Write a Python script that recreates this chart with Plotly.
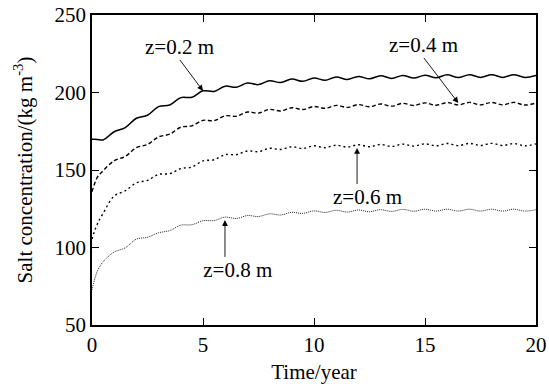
import plotly.graph_objects as go

time_year = [0, 0.1, 0.25, 0.5, 1.0, 1.5, 2.0, 2.5, 3.0, 3.5, 4.0, 4.5, 5.0, 5.5, 6.0, 6.5,
             7.0, 7.5, 8.0, 8.5, 9.0, 9.5, 10.0, 10.5, 11.0, 11.5, 12.0, 12.5, 13.0, 13.5,
             14.0, 14.5, 15.0, 15.5, 16.0, 16.5, 17.0, 17.5, 18.0, 18.5, 19.0, 19.5, 20.0]

salt_z02 = [169.8, 169.8, 169.7, 169.4, 174.7, 177.4, 183.4, 185.3, 190.9, 191.9, 196.7, 196.9,
            201.1, 200.7, 204.1, 203.4, 206.1, 205.1, 207.6, 206.4, 208.7, 207.2, 209.4, 207.9,
            210.0, 208.4, 210.4, 208.8, 210.8, 209.1, 211.0, 209.3, 211.2, 209.5, 211.4, 209.6,
            211.5, 209.7, 211.5, 209.7, 211.5, 209.7, 211.0]

salt_z04 = [136.0, 140.5, 145.5, 149.5, 156.0, 158.8, 164.4, 166.5, 171.4, 173.1, 177.6, 178.5,
            182.0, 181.9, 185.0, 184.7, 187.4, 186.7, 189.1, 188.1, 190.2, 189.0, 191.0, 189.8,
            191.7, 190.4, 192.2, 190.8, 192.6, 191.2, 193.0, 191.6, 193.3, 191.8, 193.5, 192.0,
            193.6, 192.0, 193.6, 192.0, 193.6, 191.9, 193.2]

salt_z06 = [105.5, 110.0, 115.5, 122.0, 133.2, 136.6, 141.7, 143.3, 147.2, 147.6, 150.9, 151.9,
            155.9, 156.6, 159.9, 159.9, 162.3, 161.8, 164.0, 163.2, 165.0, 163.9, 165.6, 164.4,
            166.0, 164.8, 166.3, 165.0, 166.5, 165.2, 166.7, 165.4, 166.9, 165.6, 167.1, 165.7,
            167.2, 165.8, 167.2, 165.8, 167.1, 165.6, 166.9]

salt_z08 = [72.6, 78.5, 85.0, 90.8, 97.1, 99.8, 105.4, 106.6, 109.5, 110.9, 114.4, 114.7,
            117.3, 117.4, 119.6, 118.7, 120.6, 120.0, 121.7, 121.0, 122.7, 122.0, 123.6, 122.6,
            124.0, 122.9, 124.2, 123.1, 124.4, 123.3, 124.6, 123.4, 124.7, 123.5, 124.7, 123.5,
            124.7, 123.5, 124.7, 123.5, 124.7, 123.5, 124.4]

labels = ["z=0.2 m", "z=0.4 m", "z=0.6 m", "z=0.8 m"]
x_ticks = [0, 5, 10, 15, 20]
y_ticks = [50, 100, 150, 200, 250]

FONT = "Liberation Serif, Times New Roman, serif"

fig = go.Figure()
fig.add_trace(go.Scatter(x=time_year, y=salt_z02, mode="lines", line_shape="spline",
                         line=dict(color="black", width=1.5, dash="solid"), name=labels[0]))
fig.add_trace(go.Scatter(x=time_year, y=salt_z04, mode="lines", line_shape="spline",
                         line=dict(color="black", width=1.4, dash="4px,2.5px"), name=labels[1]))
fig.add_trace(go.Scatter(x=time_year, y=salt_z06, mode="lines", line_shape="spline",
                         line=dict(color="black", width=1.4, dash="2px,3px"), name=labels[2]))
fig.add_trace(go.Scatter(x=time_year, y=salt_z08, mode="lines", line_shape="spline",
                         line=dict(color="#222", width=1.0, dash="1px,1px"), name=labels[3]))

# labels with arrows: (tip x, tip y, tail x, tail y, yanchor, leading pad)
arrows = [(5.0, 201.0, 3.96, 221.0, "bottom", 0),
          (16.5, 193.2, 14.95, 222.3, "bottom", 0),
          (11.94, 164.2, 11.94, 141.0, "top", 4),
          (5.99, 117.7, 5.99, 93.9, "top", 5)]
for (tx, ty, sx, sy, yanc, pad), t in zip(arrows, labels):
    fig.add_annotation(x=tx, y=ty, ax=sx, ay=sy, xref="x", yref="y", axref="x", ayref="y",
                       text="&nbsp;" * pad + t, showarrow=True, arrowhead=2, arrowsize=1.3,
                       arrowwidth=0.9, arrowcolor="black", xanchor="center", yanchor=yanc,
                       borderpad=0, font=dict(family=FONT, size=21, color="black"))

fig.update_layout(
    width=549, height=384,
    margin=dict(l=92, r=13, t=15, b=59),
    plot_bgcolor="white", paper_bgcolor="white",
    showlegend=False,
    font=dict(family=FONT, size=21, color="black"),
)
fig.update_xaxes(range=[0, 20], tickvals=x_ticks, ticks="inside", ticklen=7, tickwidth=1,
                 tickcolor="black", showline=True, linecolor="black", linewidth=1.5,
                 mirror="ticks", showgrid=False, zeroline=False, automargin=False,
                 title=dict(text="Time/year", standoff=10, font=dict(family=FONT, size=21)),
                 tickfont=dict(family=FONT, size=21, color="black"))
fig.update_yaxes(range=[50, 250], tickvals=y_ticks, ticks="inside", ticklen=7, tickwidth=1,
                 tickcolor="black", showline=True, linecolor="black", linewidth=1.5,
                 mirror="ticks", showgrid=False, zeroline=False, automargin=False,
                 title=dict(text="Salt concentration/(kg m<sup>-3</sup>)", standoff=16,
                            font=dict(family=FONT, size=21)),
                 tickfont=dict(family=FONT, size=21, color="black"))

fig.write_html("out.html")
